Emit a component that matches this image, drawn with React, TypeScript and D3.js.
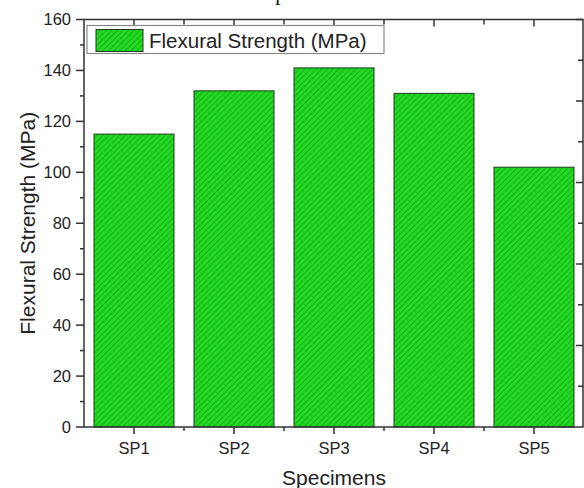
import React from 'react';
import * as d3 from 'd3';

// data
const specimens = ['SP1', 'SP2', 'SP3', 'SP4', 'SP5'];
const strength = [115, 132, 141, 131, 102];
const yTicks = [0, 20, 40, 60, 80, 100, 120, 140, 160];
const yMinor = [10, 30, 50, 70, 90, 110, 130, 150];
const rightTicks = [1, 2, 3, 4, 5, 6, 7, 8, 9, 10];

const W = 584;
const H = 488;
const left = 84;
const right = 583;
const top = 19.5;
const bottom = 427;

const sans = '"Liberation Sans", Arial, sans-serif';

const App: React.FC = () => {
  const x = d3.scaleBand<string>()
    .domain(specimens)
    .range([left, W])
    .paddingInner(0.2)
    .paddingOuter(0.1);
  const y = d3.scaleLinear().domain([0, 160]).range([bottom, top]);
  const yRight = d3.scaleLinear().domain([0, 10]).range([bottom, top]);

  const centers = specimens.map(s => (x(s) ?? 0) + x.bandwidth() / 2);
  const between = specimens.slice(1).map(s => (x(s) ?? 0) - (x.step() - x.bandwidth()) / 2);

  const axisColor = '#333';

  return (
    <svg width={W} height={H} style={{ position: 'absolute', left: 0, top: 0, background: '#fff' }}>
      <defs>
        <pattern id="hatch" width="4" height="4" patternUnits="userSpaceOnUse" patternTransform="rotate(45)">
          <rect width="4" height="4" fill="#22d822" />
          <line x1="0" y1="0" x2="0" y2="4" stroke="#0f9a0f" strokeWidth="1.3" />
        </pattern>
      </defs>

      {/* cropped caption from above */}
      <text x={275} y={0} fontFamily='"Liberation Serif", "Times New Roman", serif' fontSize={23} fill="#222">p</text>

      {/* bars */}
      {specimens.map((s, i) => (
        <rect key={s}
          x={x(s)}
          y={y(strength[i])}
          width={x.bandwidth()}
          height={y(0) - y(strength[i])}
          fill="url(#hatch)"
          stroke="#1d3d1d"
          strokeWidth={1} />
      ))}

      {/* frame */}
      <rect x={left} y={top} width={right - left} height={bottom - top} fill="none" stroke={axisColor} strokeWidth={1.5} />

      {/* left axis */}
      {yTicks.map(t => (
        <g key={'yt' + t}>
          <line x1={left - 8} x2={left} y1={y(t)} y2={y(t)} stroke={axisColor} strokeWidth={1.5} />
          <text x={left - 13} y={y(t)} dy="0.36em" textAnchor="end" fontFamily={sans} fontSize={16.5} fill="#222">{t}</text>
        </g>
      ))}
      {yMinor.map(t => (
        <line key={'ym' + t} x1={left - 4} x2={left} y1={y(t)} y2={y(t)} stroke={axisColor} strokeWidth={1.5} />
      ))}

      {/* right axis, ticks inward */}
      {rightTicks.map(t => (
        <line key={'rt' + t} x1={right - (t % 2 === 0 ? 7 : 5)} x2={right} y1={yRight(t)} y2={yRight(t)} stroke={axisColor} strokeWidth={1.5} />
      ))}

      {/* bottom axis */}
      {centers.map((c, i) => (
        <g key={'xt' + i}>
          <line x1={c} x2={c} y1={bottom} y2={bottom + 7} stroke={axisColor} strokeWidth={1.5} />
          <text x={c} y={454} textAnchor="middle" fontFamily={sans} fontSize={16.5} fill="#222">{specimens[i]}</text>
        </g>
      ))}
      {between.map((c, i) => (
        <line key={'xm' + i} x1={c} x2={c} y1={bottom} y2={bottom + 4} stroke={axisColor} strokeWidth={1.5} />
      ))}

      {/* top axis, ticks inward */}
      {centers.map((c, i) => (
        <line key={'tt' + i} x1={c} x2={c} y1={top} y2={top + 7} stroke={axisColor} strokeWidth={1.5} />
      ))}
      {between.map((c, i) => (
        <line key={'tm' + i} x1={c} x2={c} y1={top} y2={top + 5} stroke={axisColor} strokeWidth={1.5} />
      ))}

      {/* axis titles */}
      <text x={334} y={485} textAnchor="middle" fontFamily={sans} fontSize={21} fill="#222">Specimens</text>
      <text transform={`translate(35,${(top + bottom) / 2}) rotate(-90)`} textAnchor="middle" fontFamily={sans} fontSize={21} fill="#222">Flexural Strength (MPa)</text>

      {/* legend */}
      <rect x={87} y={25.5} width={297} height={28} fill="#fff" stroke="#8a8a8a" strokeWidth={1.2} />
      <rect x={96} y={29.5} width={47} height={22} fill="url(#hatch)" stroke="#1d3d1d" strokeWidth={1} />
      <text x={149} y={47.5} fontFamily={sans} fontSize={20.5} fill="#222">Flexural Strength (MPa)</text>
    </svg>
  );
};

export default App;
